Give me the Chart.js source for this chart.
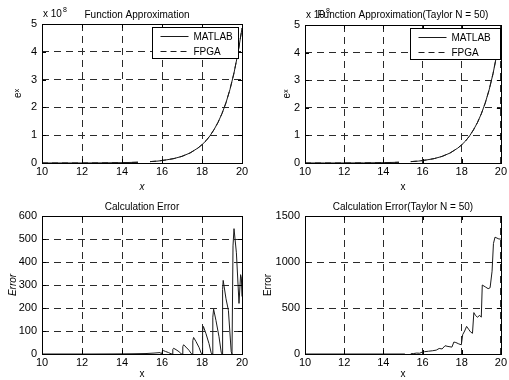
<!DOCTYPE html>
<html>
<head>
<meta charset="utf-8">
<script src="https://cdn.jsdelivr.net/npm/chart.js@4.4.0/dist/chart.umd.min.js"></script>
<style>
  html, body { margin: 0; padding: 0; background: #fff; }
  body { width: 509px; height: 380px; position: relative; overflow: hidden; }
  canvas { position: absolute; }
</style>
</head>
<body>
<canvas id="expChart" width="254" height="200" style="left:0;top:0"></canvas>
<canvas id="taylorExpChart" width="254" height="200" style="left:255px;top:0"></canvas>
<canvas id="errChart" width="254" height="190" style="left:0;top:190px"></canvas>
<canvas id="taylorErrChart" width="254" height="190" style="left:255px;top:190px"></canvas>
<script>
// x axis shared by all four panels
const xTicks = [10, 12, 14, 16, 18, 20];

// e^x in units of 1e8 (null = gap in the trace)
const expX = [10, 11, 12, 13, 14, 14.8, 15.1, 15.4, 15.8, 16.2, 16.6, 17, 17.4, 17.8, 18, 18.2, 18.4, 18.6, 18.8, 19, 19.2, 19.4, 19.6, 19.8, 20];
const matlabExp = [0.0002, 0.0006, 0.0016, 0.0044, 0.012, 0.027, null, 0.05, 0.07, 0.11, 0.16, 0.24, 0.36, 0.54, 0.66, 0.80, 0.98, 1.20, 1.46, 1.78, 2.17, 2.65, 3.24, 3.96, 4.85];
const fpgaExp = [0.0002, 0.0006, 0.0016, 0.0044, 0.012, 0.027, null, 0.05, 0.07, 0.11, 0.16, 0.24, 0.36, 0.54, 0.66, 0.80, 0.98, 1.20, 1.46, 1.78, 2.17, 2.65, 3.24, 3.96, 4.85];
const expTicks = [0, 1, 2, 3, 4, 5];

// calculation error, bottom-left panel
const errX = [10, 12.5, 13.5, 14.5, 15.2, 15.6, 15.9, 15.98, 16.02, 16.06, 16.18, 16.33, 16.45,
  16.5, 16.54, 16.58, 16.7, 16.85, 16.96, 17.0, 17.04, 17.08, 17.2, 17.35, 17.46,
  17.5, 17.54, 17.58, 17.7, 17.85, 17.96, 18.0, 18.03, 18.07, 18.2, 18.35, 18.46,
  18.5, 18.54, 18.58, 18.7, 18.85, 18.96, 19.0, 19.03, 19.06, 19.2, 19.32, 19.46,
  19.5, 19.55, 19.6, 19.72, 19.85, 19.93, 19.97, 20];
const errY = [0, 0, 0.3, 1, 2, 4, 6, 0, 12, 15, 11, 6, 1,
  0, 20, 25, 19, 10, 1, 0, 32, 40, 30, 16, 2,
  0, 58, 72, 54, 29, 3, 0, 100, 120, 88, 45, 5,
  0, 160, 195, 145, 75, 8, 0, 280, 320, 240, 190, 10,
  0, 470, 545, 440, 220, 345, 330, 250];
const errTicks = [0, 100, 200, 300, 400, 500, 600];

// calculation error with Taylor N = 50, bottom-right panel
const taylorErrX = [10, 12, 14, 15.1, 15.25, 15.4, 15.55, 15.7, 15.85, 16.0, 16.1, 16.3, 16.5, 16.7, 16.85,
  17.0, 17.15, 17.3, 17.5, 17.6, 17.7, 17.85, 17.98, 18.05, 18.15, 18.25, 18.35, 18.45, 18.55,
  18.62, 18.7, 18.8, 18.92, 19.0, 19.05, 19.2, 19.35, 19.45, 19.55, 19.62, 19.7, 19.8, 19.9, 20];
const taylorErrY = [0, 0, 0, 0, null, 3, 5, 10, 8, 22, 25, 30, 35, 42, 60,
  55, 90, 82, 75, 130, 125, 110, 100, 210, 250, 300, 270, 240, 225,
  450, 420, 400, 420, 400, 750, 730, 710, 720, 900, 1200, 1270, 1260, 1250, 1250];
const taylorErrTicks = [0, 500, 1000, 1500];

const FONT = "'Liberation Sans', Arial, Helvetica, sans-serif";
Chart.defaults.font.family = FONT;
Chart.defaults.font.size = 11;
Chart.defaults.color = '#000';

const points = (xs, ys) => xs.map((x, i) => ({ x: x, y: ys[i] }));

// box, inward ticks, title, exponent and legend drawn MATLAB style
const matlabAxes = {
    id: 'matlabAxes',
    afterDraw(chart, args, opts) {
        const { ctx, chartArea: a, scales } = chart;
        ctx.save();
        ctx.strokeStyle = '#000';
        ctx.lineWidth = 1;
        ctx.setLineDash([]);

        ctx.beginPath();
        scales.x.ticks.forEach(t => {
            const px = Math.round(scales.x.getPixelForValue(t.value)) + 0.5;
            ctx.moveTo(px, a.bottom); ctx.lineTo(px, a.bottom - 4);
            ctx.moveTo(px, a.top); ctx.lineTo(px, a.top + 4);
        });
        scales.y.ticks.forEach(t => {
            const py = Math.round(scales.y.getPixelForValue(t.value)) + 0.5;
            ctx.moveTo(a.left, py); ctx.lineTo(a.left + 4, py);
            ctx.moveTo(a.right, py); ctx.lineTo(a.right - 4, py);
        });
        ctx.stroke();
        ctx.strokeRect(Math.round(a.left) + 0.5, Math.round(a.top) + 0.5, Math.round(a.width), Math.round(a.height));

        if (opts.legend) {
            const w = opts.legend.width, h = 31;
            const x0 = Math.round(a.right - opts.legend.right - w) + 0.5;
            const y0 = Math.round(a.top + opts.legend.top) + 0.5;
            ctx.fillStyle = '#fff';
            ctx.fillRect(x0, y0, w, h);
            ctx.strokeRect(x0, y0, w, h);
            ctx.font = '10px ' + FONT;
            ctx.textBaseline = 'middle';
            ctx.textAlign = 'left';
            chart.data.datasets.forEach((ds, i) => {
                const ly = Math.round(y0 + 8 + i * 15) + 0.5;
                ctx.strokeStyle = ds.borderColor;
                ctx.setLineDash(ds.borderDash || []);
                ctx.beginPath();
                ctx.moveTo(x0 + 8, ly); ctx.lineTo(x0 + 36, ly);
                ctx.stroke();
                ctx.setLineDash([]);
                ctx.fillStyle = '#000';
                ctx.fillText(ds.label, x0 + 41, ly + 1);
            });
        }

        ctx.fillStyle = '#000';
        if (opts.exponent) {
            ctx.textBaseline = 'alphabetic';
            ctx.textAlign = 'left';
            ctx.font = '10px ' + FONT;
            ctx.fillText('x 10', a.left + 1, a.top - 7);
            const w = ctx.measureText('x 10').width;
            ctx.font = '7px ' + FONT;
            ctx.fillText(opts.exponent, a.left + 2 + w, a.top - 12);
        }

        ctx.font = '10px ' + FONT;
        ctx.textAlign = 'center';
        ctx.textBaseline = 'middle';
        ctx.fillText(opts.title, (a.left + a.right) / 2 + (opts.titleDx || 0), opts.titleY);
        ctx.restore();
    }
};
Chart.register(matlabAxes);

function lineDataset(label, xs, ys, dash) {
    return {
        label: label,
        data: points(xs, ys),
        borderColor: '#1a1a1a',
        borderWidth: 1,
        borderDash: dash,
        pointRadius: 0,
        tension: 0,
        spanGaps: false,
        fill: false
    };
}

function buildChart(id, cfg) {
    const canvas = document.getElementById(id);
    if (!canvas) return;
    const tickList = (list) => (scale) => { scale.ticks = list.map(v => ({ value: v })); };
    new Chart(canvas.getContext('2d'), {
        type: 'line',
        data: { datasets: cfg.datasets },
        options: {
            responsive: false,
            animation: false,
            events: [],
            layout: { padding: cfg.padding },
            plugins: {
                legend: { display: false },
                tooltip: { enabled: false },
                matlabAxes: cfg.frame
            },
            scales: {
                x: {
                    type: 'linear',
                    min: xTicks[0],
                    max: xTicks[xTicks.length - 1],
                    afterBuildTicks: tickList(xTicks),
                    afterFit: (s) => { s.height = cfg.xHeight; },
                    grid: { color: '#2a2a2a', drawTicks: false },
                    border: { display: false, dash: [7, 5] },
                    ticks: { padding: 2, maxRotation: 0, callback: (v) => String(v) },
                    title: { display: true, text: 'x', padding: { top: 0, bottom: cfg.xTitlePad }, font: { size: 10, style: cfg.xItalic ? 'italic' : 'normal' } }
                },
                y: {
                    type: 'linear',
                    min: cfg.yTicks[0],
                    max: cfg.yTicks[cfg.yTicks.length - 1],
                    afterBuildTicks: tickList(cfg.yTicks),
                    afterFit: (s) => { s.width = cfg.yWidth; },
                    grid: { color: '#2a2a2a', drawTicks: false },
                    border: { display: false, dash: [7, 5] },
                    ticks: { padding: 5, callback: (v) => String(v) },
                    title: { display: true, text: cfg.yTitle, padding: { top: 4, bottom: 0 }, font: { size: 10, style: cfg.yItalic ? 'italic' : 'normal' } }
                }
            }
        }
    });
}

document.addEventListener('DOMContentLoaded', () => {
    buildChart('expChart', {
        datasets: [lineDataset('MATLAB', expX, matlabExp, []), lineDataset('FPGA', expX, fpgaExp, [6, 4])],
        padding: { left: 8, top: 24, right: 12, bottom: 0 },
        yWidth: 34, xHeight: 37, xTitlePad: 7, xItalic: true,
        yTicks: expTicks, yTitle: 'eˣ',
        frame: { title: 'Function Approximation', titleY: 15, titleDx: -5, exponent: '8', legend: { width: 86, right: 4, top: 3 } }
    });
    buildChart('taylorExpChart', {
        datasets: [lineDataset('MATLAB', expX, matlabExp, []), lineDataset('FPGA', expX, fpgaExp, [6, 4])],
        padding: { left: 22, top: 25, right: 4, bottom: 0 },
        yWidth: 28, xHeight: 37, xTitlePad: 7,
        yTicks: expTicks, yTitle: 'eˣ',
        frame: { title: 'Function Approximation(Taylor N = 50)', titleY: 15, exponent: '8', legend: { width: 90, right: 1, top: 3 } }
    });
    buildChart('errChart', {
        datasets: [lineDataset('Error', errX, errY, [])],
        padding: { left: 3, top: 26, right: 12, bottom: 0 },
        yWidth: 39, xHeight: 26, xTitlePad: 0, yItalic: true,
        yTicks: errTicks, yTitle: 'Error',
        frame: { title: 'Calculation Error', titleY: 17 }
    });
    buildChart('taylorErrChart', {
        datasets: [lineDataset('Error', taylorErrX, taylorErrY, [])],
        padding: { left: 3, top: 26, right: 6, bottom: 0 },
        yWidth: 47, xHeight: 26, xTitlePad: 0,
        yTicks: taylorErrTicks, yTitle: 'Error',
        frame: { title: 'Calculation Error(Taylor N = 50)', titleY: 17 }
    });
});
</script>
</body>
</html>
